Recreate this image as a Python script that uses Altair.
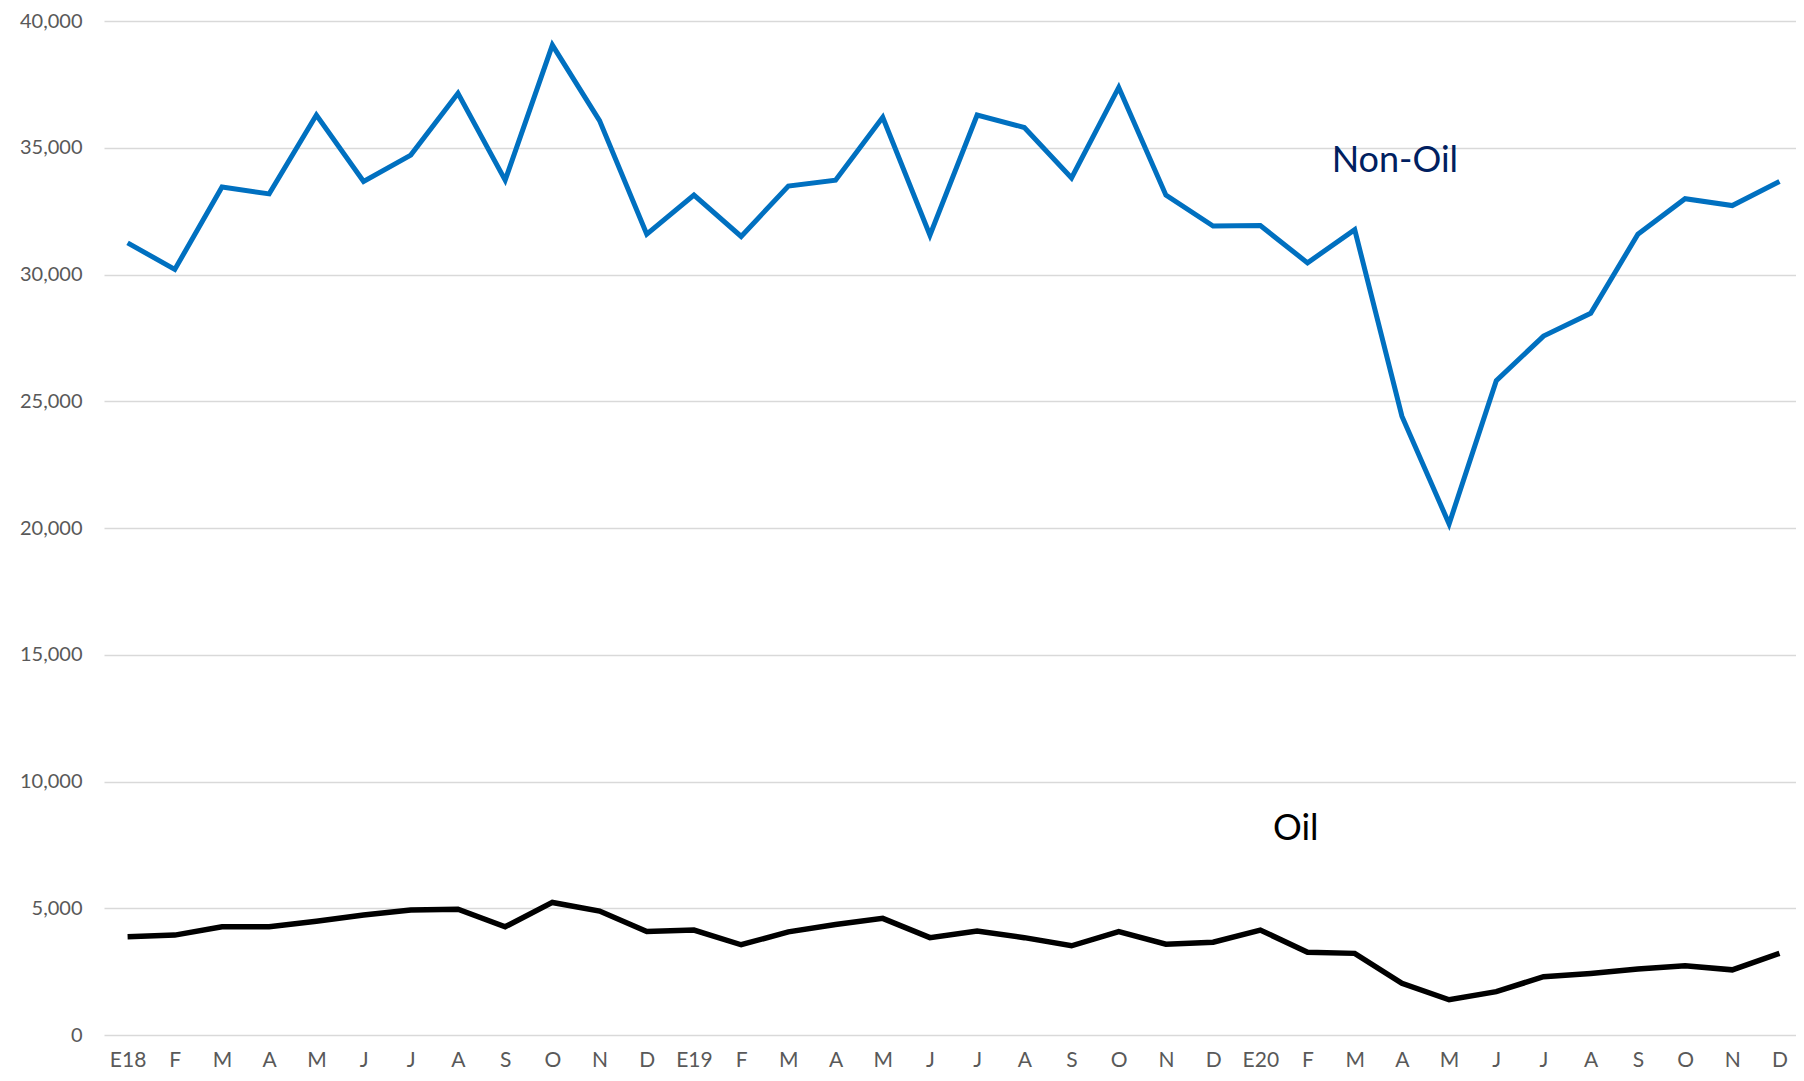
import altair as alt
import pandas as pd

months = ["E18", "F", "M", "A", "M", "J", "J", "A", "S", "O", "N", "D",
          "E19", "F", "M", "A", "M", "J", "J", "A", "S", "O", "N", "D",
          "E20", "F", "M", "A", "M", "J", "J", "A", "S", "O", "N", "D"]

non_oil = [31250, 30200, 33450, 33180, 36290, 33670, 34710, 37150, 33720, 39050, 36070, 31590,
           33130, 31500, 33490, 33720, 36200, 31550, 36290, 35800, 33810, 37380, 33130, 31910,
           31930, 30460, 31770, 24410, 20160, 25810, 27570, 28470, 31590, 32990, 32720, 33670]

oil = [3880, 3940, 4270, 4270, 4490, 4730, 4930, 4960, 4270, 5230, 4890, 4080,
       4140, 3560, 4070, 4360, 4600, 3840, 4100, 3840, 3520, 4080, 3580, 3660,
       4140, 3260, 3220, 2040, 1390, 1710, 2300, 2430, 2600, 2730, 2570, 3220]

series_names = ["Non-Oil", "Oil"]
series_colors = ["#0070C0", "#000000"]
series_widths = [5, 5.5]

label_text = ["Non-Oil", "Oil"]
label_x = [26.85, 24.75]
label_y = [34470, 8140]
label_colors = ["#002060", "#000000"]

rows = []
for i in range(len(months)):
    rows.append({"idx": i, "series": "Non-Oil", "value": non_oil[i]})
    rows.append({"idx": i, "series": "Oil", "value": oil[i]})
df = pd.DataFrame(rows)

labels_df = pd.DataFrame({"text": label_text, "x": label_x, "y": label_y, "color": label_colors})

month_array = "[" + ",".join("'" + m + "'" for m in months) + "]"

x_scale = alt.Scale(domain=[-0.5, 35.35], nice=False, zero=False)
y_scale = alt.Scale(domain=[0, 40000], nice=False)

x_axis = alt.Axis(
    values=list(range(len(months))),
    labelExpr=month_array + "[datum.value]",
    grid=False, ticks=False, domain=False,
    labelFont="Lato", labelFontSize=21, labelColor="#595959",
    labelPadding=14, title=None, labelFlush=False,
)
y_axis = alt.Axis(
    values=list(range(0, 40001, 5000)), format=",d",
    grid=True, gridColor="#d9d9d9", gridWidth=1.5,
    ticks=False, domain=False,
    labelFont="Lato", labelFontSize=20, labelColor="#595959",
    labelPadding=22, title=None, labelFlush=False,
)

lines = alt.Chart(df).mark_line(strokeJoin="miter").encode(
    x=alt.X("idx:Q", scale=x_scale, axis=x_axis),
    y=alt.Y("value:Q", scale=y_scale, axis=y_axis),
    color=alt.Color("series:N", scale=alt.Scale(domain=series_names, range=series_colors), legend=None),
    strokeWidth=alt.StrokeWidth("series:N", scale=alt.Scale(domain=series_names, range=series_widths), legend=None),
    detail="series:N",
)

texts = alt.Chart(labels_df).mark_text(font="Lato", fontSize=36, align="center", baseline="middle").encode(
    x=alt.X("x:Q", scale=x_scale),
    y=alt.Y("y:Q", scale=y_scale),
    text="text:N",
    color=alt.Color("color:N", scale=None),
)

chart = alt.layer(lines, texts).properties(
    width=1692, height=1014,
    padding={"left": 96, "top": 13, "right": 0, "bottom": 38},
    autosize="none",
).configure_view(stroke=None)

chart.save("out.html", embed_options={"renderer": "svg", "actions": False})
